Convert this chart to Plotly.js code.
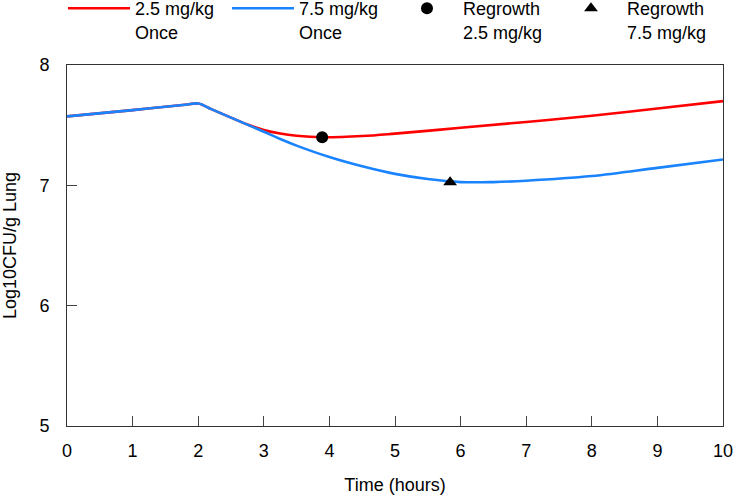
<!DOCTYPE html>
<html>
<head>
<meta charset="utf-8">
<script src="https://cdn.plot.ly/plotly-3.0.1.min.js"></script>
<style>html,body{margin:0;padding:0;background:#fff;}#chart{width:733px;height:496px;}</style>
</head>
<body>
<div id="chart"></div>
<script>
// Time (hours)
const timeLow = [0, 1, 1.8, 2, 2.2, 2.5, 2.75, 3, 3.25, 3.5, 3.9, 4.5, 5, 6, 7, 8, 9, 10];
const lowDose = [7.573, 7.625, 7.670, 7.680, 7.633, 7.563, 7.506, 7.46, 7.43, 7.412, 7.40, 7.41, 7.43, 7.478, 7.527, 7.578, 7.638, 7.70];
const timeHigh = [0, 1, 1.8, 2, 2.2, 2.5, 3, 3.25, 3.5, 4, 4.5, 5, 5.5, 6, 6.5, 7, 8, 9, 10];
const highDose = [7.573, 7.625, 7.670, 7.680, 7.633, 7.563, 7.445, 7.385, 7.33, 7.235, 7.158, 7.095, 7.052, 7.027, 7.027, 7.038, 7.077, 7.145, 7.215];
const regrowthLowX = [3.89];
const regrowthLowY = [7.40];
const regrowthHighX = [5.84];
const regrowthHighY = [7.025];
const xTicks = [0, 1, 2, 3, 4, 5, 6, 7, 8, 9, 10];
const yTicks = [5, 6, 7, 8];

const traces = [
  {x: timeLow, y: lowDose, mode: 'lines', name: '2.5 mg/kg<br>Once',
   line: {color: '#ff0000', width: 2.6, shape: 'spline', smoothing: 1}},
  {x: timeHigh, y: highDose, mode: 'lines', name: '7.5 mg/kg<br>Once',
   line: {color: '#1a84ff', width: 2.6, shape: 'spline', smoothing: 1}},
  {x: regrowthLowX, y: regrowthLowY, mode: 'markers', name: 'Regrowth<br>2.5 mg/kg',
   marker: {symbol: 'circle', color: '#000', size: 12}},
  {x: regrowthHighX, y: regrowthHighY, mode: 'markers', name: 'Regrowth<br>7.5 mg/kg',
   marker: {symbol: 'triangle-up', color: '#000', size: 12}}
];

const fam = 'Liberation Sans, Arial, sans-serif';
const layout = {
  width: 733, height: 496,
  margin: {l: 67, r: 10, t: 65, b: 70, autoexpand: false},
  paper_bgcolor: '#fff', plot_bgcolor: '#fff',
  font: {family: fam, size: 18, color: '#000'},
  showlegend: true,
  legend: {orientation: 'h', xref: 'paper', yref: 'paper', x: -0.0061, y: 1.2078,
           xanchor: 'left', yanchor: 'top', valign: 'top',
           font: {family: fam, size: 18, color: '#000'},
           bgcolor: 'rgba(0,0,0,0)', itemwidth: 62,
           entrywidth: 87, entrywidthmode: 'pixels'},
  xaxis: {range: [0, 10], tickvals: xTicks, ticks: 'inside', ticklen: 10, tickcolor: '#444',
          showline: true, linecolor: '#333', linewidth: 1, mirror: true, showgrid: false, zeroline: false,
          ticklabelstandoff: 8, ticklabeloverflow: 'allow', tickfont: {family: fam, size: 18, color: '#000'},
          title: {text: 'Time (hours)', font: {family: fam, size: 18, color: '#000'}, standoff: 18}},
  yaxis: {range: [5, 8], tickvals: yTicks, ticks: 'inside', ticklen: 10, tickcolor: '#444',
          showline: true, linecolor: '#333', linewidth: 1, mirror: true, showgrid: false, zeroline: false,
          ticklabelstandoff: 13, tickfont: {family: fam, size: 18, color: '#000'},
          title: {text: 'Log10CFU/g Lung', font: {family: fam, size: 18, color: '#000'}, standoff: 26}}
};
Plotly.newPlot('chart', traces, layout, {displayModeBar: false, responsive: false});
</script>
</body>
</html>
